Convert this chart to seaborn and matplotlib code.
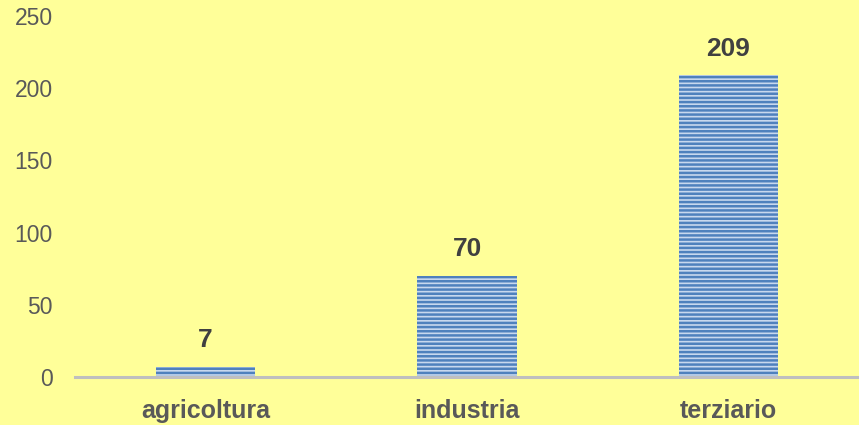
import matplotlib
matplotlib.use("Agg")
import matplotlib.pyplot as plt
import seaborn as sns

# dati
settori = ["agricoltura", "industria", "terziario"]
valori = [7, 70, 209]
y_ticks = [0, 50, 100, 150, 200, 250]

sns.set_style("white")
plt.rcParams["font.family"] = ["Liberation Sans", "DejaVu Sans"]
plt.rcParams["hatch.linewidth"] = 1.8

sfondo = "#FFFF99"
fig = plt.figure(figsize=(8.59, 4.25), dpi=100, facecolor=sfondo)
ax = fig.add_axes([75 / 859, 48 / 425, 784 / 859, 361 / 425])
ax.set_facecolor(sfondo)

sns.barplot(x=settori, y=valori, ax=ax, color="#C8D8EE", width=0.38,
            saturation=1, linewidth=0, edgecolor="#4F81BD")
for p in ax.patches:
    p.set_hatch("----")
    p.set_edgecolor("#4F81BD")
    p.set_linewidth(0)

# etichette valori
for i, v in enumerate(valori):
    ax.text(i, v + 10, str(v), ha="center", va="bottom", fontsize=19,
            fontweight="bold", color="#404040")

ax.set_xlim(-0.5, 2.5)
ax.set_ylim(0, 250)
ax.set_yticks(y_ticks)
ax.tick_params(axis="y", length=0, pad=16, labelsize=16.5, labelcolor="#595959")
ax.tick_params(axis="x", length=0, pad=16, labelsize=18, labelcolor="#595959")
for lab in ax.get_xticklabels():
    lab.set_fontweight("bold")

for s in ["top", "right", "left"]:
    ax.spines[s].set_visible(False)
ax.spines["bottom"].set_color("#BFBFBF")
ax.spines["bottom"].set_linewidth(2.2)
ax.set_xlabel("")
ax.set_ylabel("")

fig.savefig("out.png", dpi=100, facecolor=sfondo)
